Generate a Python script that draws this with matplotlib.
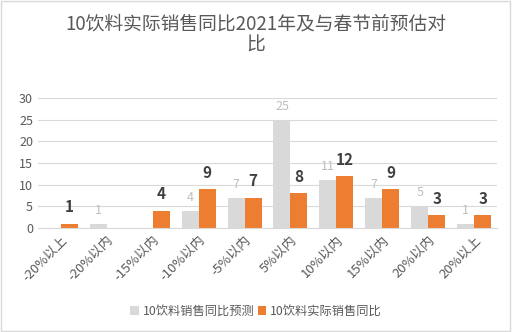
import matplotlib.pyplot as plt
import numpy as np
from matplotlib.patches import Rectangle

plt.rcParams['font.family'] = ['Noto Sans CJK SC', 'DejaVu Sans']

categories = ['-20%以上', '-20%以内', '-15%以内', '-10%以内', '-5%以内',
              '5%以内', '10%以内', '15%以内', '20%以内', '20%以上']
forecast = [0, 1, 0, 4, 7, 25, 11, 7, 5, 1]
actual = [1, 0, 4, 9, 7, 8, 12, 9, 3, 3]

gray = '#d9d9d9'
orange = '#ed7d31'
text_col = '#595959'

fig = plt.figure(figsize=(5.12, 3.32), dpi=100)
ax = fig.add_axes([0.074, 0.313, 0.897, 0.392])

x = np.arange(len(categories))
w = 0.37
b1 = ax.bar(x - w / 2, forecast, w, color=gray, label='10饮料销售同比预测')
b2 = ax.bar(x + w / 2, actual, w, color=orange, label='10饮料实际销售同比')

for xi, v in zip(x, forecast):
    if v:
        ax.annotate(str(v), (xi - w / 2, v), xytext=(0, 5), textcoords='offset points',
                    ha='center', va='bottom', fontsize=9, color='#bfbfbf')
for xi, v in zip(x, actual):
    if v:
        ax.annotate(str(v), (xi + w / 2, v), xytext=(0, 6), textcoords='offset points',
                    ha='center', va='bottom', fontsize=11, fontweight='bold', color='#404040')

ax.set_ylim(0, 30)
ax.set_yticks(range(0, 31, 5))
ax.set_xlim(-0.5, len(categories) - 0.5)
ax.set_xticks(x)
ax.set_xticklabels(categories, rotation=45, ha='right', rotation_mode='anchor')
ax.tick_params(axis='both', length=0, labelsize=9, labelcolor=text_col)
ax.tick_params(axis='x', pad=4, labelsize=9.5)
ax.grid(axis='y', color=gray, lw=0.8)
ax.set_axisbelow(True)
for s in ['top', 'right', 'left']:
    ax.spines[s].set_visible(False)
ax.spines['bottom'].set_color(gray)

fig.text(0.5, 0.96, '10饮料实际销售同比2021年及与春节前预估对\n比', ha='center', va='top',
         fontsize=13.5, color=text_col, linespacing=1.05)

fig.legend(handles=[b1, b2], loc='center', bbox_to_anchor=(0.5, 0.063), ncol=2,
           frameon=False, fontsize=8.8, handlelength=0.7, handleheight=0.7,
           handletextpad=0.3, columnspacing=0.3, labelcolor=text_col)

fig.patches.append(Rectangle((0.002, 0.003), 0.995, 0.994, transform=fig.transFigure,
                             fill=False, edgecolor='#d9d9d9', lw=1))

plt.savefig('out.png')
